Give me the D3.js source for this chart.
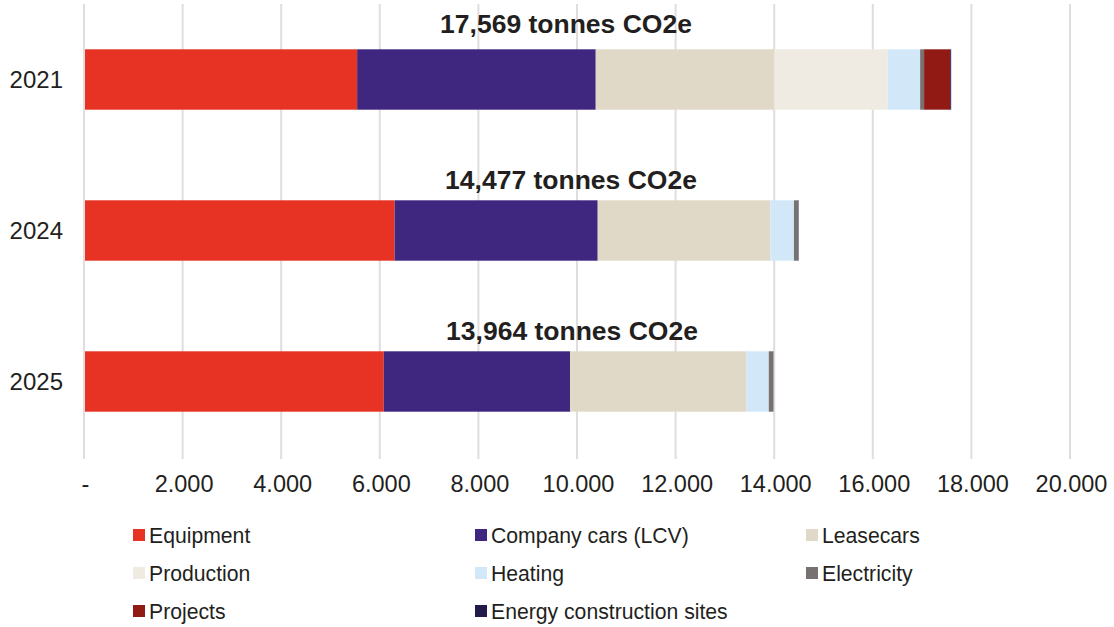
<!DOCTYPE html>
<html><head><meta charset="utf-8">
<script src="https://cdn.jsdelivr.net/npm/d3@7"></script>
<style>body{margin:0;background:#fff}text{font-family:"Liberation Sans",Arial,sans-serif;fill:#231f20}</style>
</head><body><svg id="c" width="1114" height="627"></svg>
<script>
const years = ["2021","2024","2025"];
const seriesNames = ["Equipment","Company cars (LCV)","Leasecars","Production","Heating","Electricity","Projects","Energy construction sites"];
const seriesColors = ["#e63323","#3f2780","#e0d9c8","#efebe2","#d2e8f8","#777172","#921a14","#241a4a"];
const equipment = [5520, 6280, 6060];
const companyCars = [4840, 4120, 3780];
const leasecars = [3620, 3500, 3580];
const production = [2300, 0, 0];
const heating = [660, 480, 450];
const electricity = [80, 90, 90];
const projects = [530, 0, 0];
const energySites = [19, 7, 4];
const totals = [17569, 14477, 13964];
const totalLabels = ["17,569 tonnes CO2e","14,477 tonnes CO2e","13,964 tonnes CO2e"];
const xTicks = [0,2000,4000,6000,8000,10000,12000,14000,16000,18000,20000];
const xTickLabels = ["-","2.000","4.000","6.000","8.000","10.000","12.000","14.000","16.000","18.000","20.000"];

const seriesValues = [equipment, companyCars, leasecars, production, heating, electricity, projects, energySites];
const rows = years.map((y,i)=>{const o={year:y}; seriesNames.forEach((s,j)=>o[s]=seriesValues[j][i]); return o;});
const stack = d3.stack().keys(seriesNames)(rows);

const svg = d3.select("#c");
const x = d3.scaleLinear().domain([0,20000]).range([85,1071]);
const y = d3.scaleBand().domain(years).range([4,457]).paddingInner(0.6).paddingOuter(0.3);

// grid
svg.append("g").selectAll("line").data(xTicks).join("line")
  .attr("x1",d=>x(d)-1).attr("x2",d=>x(d)-1).attr("y1",4).attr("y2",459)
  .attr("stroke","#e2dcdc").attr("stroke-width",2);

// bars
svg.append("g").selectAll("g").data(stack).join("g")
  .attr("fill",(d,i)=>seriesColors[i])
  .selectAll("rect").data(d=>d).join("rect")
  .attr("x",d=>x(d[0])).attr("width",d=>Math.max(0,x(d[1])-x(d[0])))
  .attr("y",d=>y(d.data.year)).attr("height",y.bandwidth());

// totals
const labelCx = [566, 571, 572];
svg.append("g").selectAll("text").data(years).join("text")
  .attr("x",(d,i)=>labelCx[i]).attr("y",(d,i)=>y(d)-(i===0?16:11))
  .attr("text-anchor","middle").attr("font-weight","bold").attr("font-size",26.5)
  .text((d,i)=>totalLabels[i]);

// y axis labels
svg.append("g").selectAll("text").data(years).join("text")
  .attr("x",63).attr("y",d=>y(d)+y.bandwidth()/2).attr("dy","0.36em")
  .attr("text-anchor","end").attr("font-size",24).text(d=>d);

// x axis
const xAxis = d3.axisBottom(x).tickValues(xTicks).tickFormat((d,i)=>xTickLabels[i]).tickSize(0).tickPadding(0);
const gx = svg.append("g").attr("transform","translate(0,484)").call(xAxis);
gx.select(".domain").remove();
gx.selectAll("text").attr("font-size",23.5).attr("dy","0.36em").attr("fill","#231f20")
  .attr("font-family","'Liberation Sans',Arial,sans-serif");

// legend
const legCols = [133,475,806];
const legRows = [535,573,611];
const leg = svg.append("g").selectAll("g").data(seriesNames).join("g")
  .attr("transform",(d,i)=>`translate(${legCols[i%3]},${legRows[Math.floor(i/3)]})`);
leg.append("rect").attr("x",0).attr("y",-6).attr("width",12).attr("height",12).attr("fill",(d,i)=>seriesColors[i]);
leg.append("text").attr("x",16).attr("y",0).attr("dy","0.36em").attr("font-size",21.2).text(d=>d);
</script></body></html>
